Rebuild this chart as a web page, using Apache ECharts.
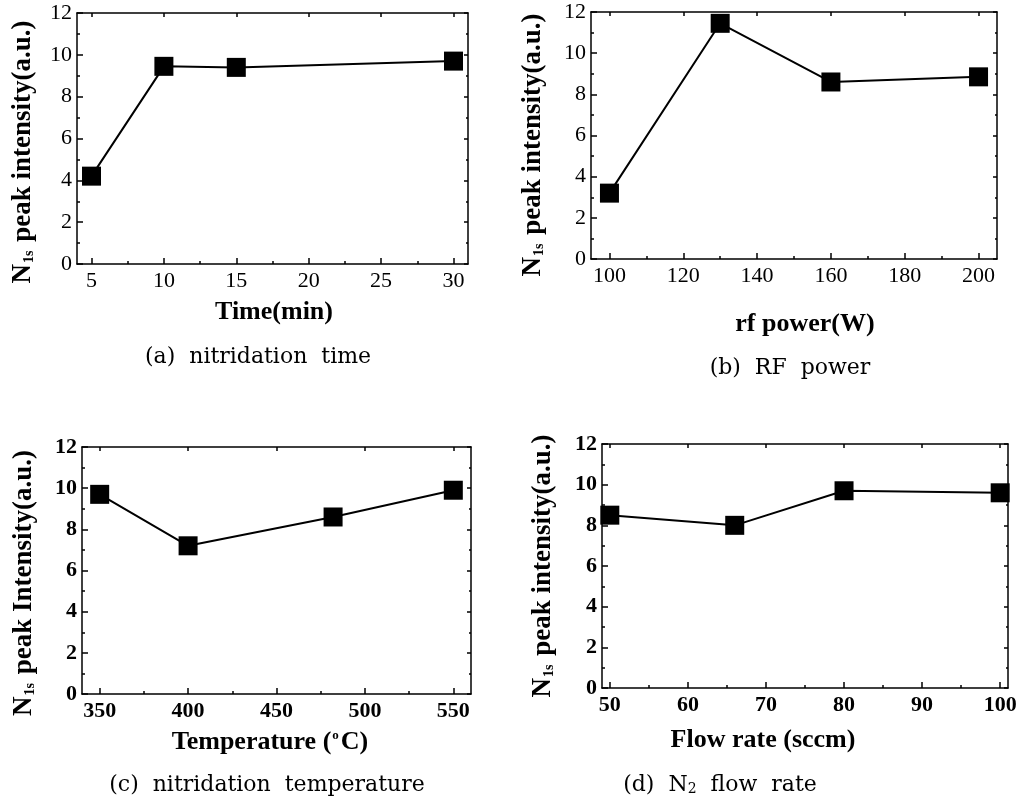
<!DOCTYPE html>
<html>
<head>
<meta charset="utf-8">
<script src="https://cdn.jsdelivr.net/npm/echarts@6/dist/echarts.min.js"></script>
<style>
  html, body { margin: 0; padding: 0; background: #fff; }
  #chart { width: 1021px; height: 807px; }
</style>
</head>
<body>
<div id="chart"></div>
<script>
// (a) nitridation time
const timeMin = [5, 10, 15, 30]
const timeVal = [4.2, 9.45, 9.4, 9.7]
const timeTicks = [5, 10, 15, 20, 25, 30]
const timeMinor = [7.5, 12.5, 17.5, 22.5, 27.5]

// (b) RF power
const rfPower = [100, 130, 160, 200]
const rfVal = [3.2, 11.45, 8.6, 8.85]
const rfTicks = [100, 120, 140, 160, 180, 200]
const rfMinor = [110, 130, 150, 170, 190]

// (c) nitridation temperature
const tempC = [350, 400, 482, 550]
const tempVal = [9.7, 7.2, 8.6, 9.9]
const tempTicks = [350, 400, 450, 500, 550]
const tempMinor = [375, 425, 475, 525]

// (d) N2 flow rate
const flowSccm = [50, 66, 80, 100]
const flowVal = [8.5, 8.0, 9.7, 9.6]
const flowTicks = [50, 60, 70, 80, 90, 100]
const flowMinor = [55, 65, 75, 85, 95]

const serif = 'Liberation Serif'
const black = '#000'

const panels = [
    { rect: [77, 13, 391, 251], xMin: 4, xMax: 31, ticks: timeTicks, minor: timeMinor, xs: timeMin, ys: timeVal, bold: false },
    { rect: [591, 12, 406, 247], xMin: 95, xMax: 205, ticks: rfTicks, minor: rfMinor, xs: rfPower, ys: rfVal, bold: false },
    { rect: [82, 447, 389, 247], xMin: 340, xMax: 560, ticks: tempTicks, minor: tempMinor, xs: tempC, ys: tempVal, bold: true },
    { rect: [602, 444, 406, 244], xMin: 49, xMax: 101, ticks: flowTicks, minor: flowMinor, xs: flowSccm, ys: flowVal, bold: true }
]

const grid = []
const xAxis = []
const yAxis = []
const series = []

const line = { color: black, width: 1.5 }

panels.forEach((p, i) => {
    grid.push({ left: p.rect[0], top: p.rect[1], width: p.rect[2], height: p.rect[3] })
    const label = { color: black, fontFamily: serif, fontSize: 22, fontWeight: p.bold ? 'bold' : 'normal' }
    const xi = xAxis.length
    // bottom axis with labels
    xAxis.push({
        type: 'value', gridIndex: i, min: p.xMin, max: p.xMax, position: 'bottom',
        axisLine: { show: true, onZero: false, lineStyle: line },
        axisTick: { show: true, inside: true, length: 6, customValues: p.ticks, lineStyle: line },
        axisLabel: Object.assign({ customValues: p.ticks, margin: 6 }, label),
        splitLine: { show: false }
    })
    // bottom minor ticks
    xAxis.push({
        type: 'value', gridIndex: i, min: p.xMin, max: p.xMax, position: 'bottom',
        axisLine: { show: false, onZero: false },
        axisTick: { show: true, inside: true, length: 3, customValues: p.minor, lineStyle: line },
        axisLabel: { show: false },
        splitLine: { show: false }
    })
    // top mirror
    xAxis.push({
        type: 'value', gridIndex: i, min: p.xMin, max: p.xMax, position: 'top',
        axisLine: { show: true, onZero: false, lineStyle: line },
        axisTick: { show: true, inside: true, length: 4, customValues: p.ticks, lineStyle: line },
        axisLabel: { show: false },
        splitLine: { show: false }
    })
    const yi = yAxis.length
    yAxis.push({
        type: 'value', gridIndex: i, min: 0, max: 12, interval: 2, position: 'left',
        axisLine: { show: true, onZero: false, lineStyle: line },
        axisTick: { show: true, inside: true, length: 6, lineStyle: line },
        minorTick: { show: true, splitNumber: 2, length: 3, lineStyle: line },
        axisLabel: Object.assign({ margin: 5 }, label),
        splitLine: { show: false }
    })
    yAxis.push({
        type: 'value', gridIndex: i, min: 0, max: 12, interval: 2, position: 'right',
        axisLine: { show: true, onZero: false, lineStyle: line },
        axisTick: { show: true, inside: true, length: 4, lineStyle: line },
        minorTick: { show: true, splitNumber: 2, length: 2, lineStyle: line },
        axisLabel: { show: false },
        splitLine: { show: false }
    })
    series.push({
        type: 'line',
        xAxisIndex: xi,
        yAxisIndex: yi,
        data: p.xs.map((x, k) => [x, p.ys[k]]),
        symbol: 'rect',
        symbolSize: 19,
        lineStyle: { color: black, width: 2 },
        itemStyle: { color: black },
        z: 3
    })
})

const yTitleRich = {
    n: { fontFamily: serif, fontWeight: 'bold', fontSize: 27, fill: black },
    s: { fontFamily: serif, fontWeight: 'bold', fontSize: 14, fill: black, verticalAlign: 'bottom', padding: [0, 2, 0, 1] }
}

function yTitle(x, y, word) {
    return {
        type: 'text', x: x, y: y, rotation: Math.PI / 2,
        style: {
            text: '{n|N}{s|1s}{n| peak ' + word + '(a.u.)}',
            rich: yTitleRich,
            align: 'center', verticalAlign: 'middle'
        }
    }
}

function xTitle(x, y, text, rich) {
    return {
        type: 'text', x: x, y: y,
        style: {
            text: text,
            font: 'bold 26px "Liberation Serif"',
            fill: black,
            rich: rich,
            align: 'center', verticalAlign: 'middle'
        }
    }
}

function caption(x, y, text, rich) {
    return {
        type: 'text', x: x, y: y,
        style: {
            text: text,
            font: '22px "DejaVu Serif"',
            fill: black,
            rich: rich,
            align: 'center', verticalAlign: 'middle'
        }
    }
}

const graphic = [
    yTitle(23, 152, 'intensity'),
    yTitle(533, 145, 'intensity'),
    yTitle(24, 583, 'Intensity'),
    yTitle(543, 566, 'intensity'),
    xTitle(274, 312, 'Time(min)'),
    xTitle(805, 324, 'rf power(W)'),
    xTitle(270, 742, '{t|Temperature (}{o|o}{t|C)}', {
        t: { font: 'bold 26px "Liberation Serif"', fill: black },
        o: { font: 'bold 13px "Liberation Serif"', fill: black, verticalAlign: 'top', padding: [0, 2, 0, 1] }
    }),
    xTitle(763, 740, 'Flow rate (sccm)'),
    caption(258, 357, '(a)  nitridation  time'),
    caption(790, 368, '(b)  RF  power'),
    caption(267, 785, '(c)  nitridation  temperature'),
    caption(720, 785, '{t|(d)  N}{s|2}{t|  flow  rate}', {
        t: { font: '22px "DejaVu Serif"', fill: black },
        s: { font: '14px "DejaVu Serif"', fill: black, verticalAlign: 'bottom' }
    })
]

const chart = echarts.init(document.getElementById('chart'))
chart.setOption({
    backgroundColor: '#fff',
    animation: false,
    grid: grid,
    xAxis: xAxis,
    yAxis: yAxis,
    series: series,
    graphic: graphic
})
</script>
</body>
</html>
